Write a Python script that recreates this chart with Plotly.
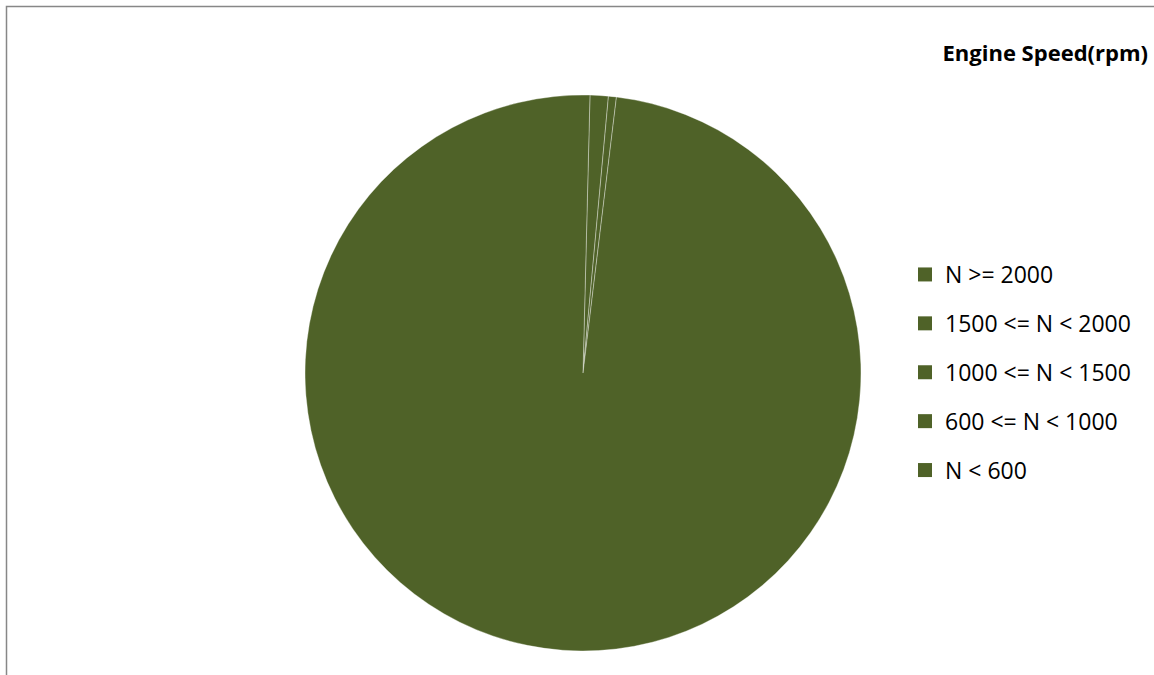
import plotly.graph_objects as go

labels = ["N >= 2000", "1500 <= N < 2000", "1000 <= N < 1500", "600 <= N < 1000", "N < 600"]
values = [0.0, 0.0, 1.06, 0.46, 98.48]
slice_color = "#4F6228"
title_text = "Engine Speed(rpm)"

fig = go.Figure()
fig.add_trace(go.Pie(
    labels=labels, values=values, sort=False, direction="clockwise", rotation=1.44,
    marker=dict(colors=[slice_color] * len(labels), line=dict(color="rgba(255,255,255,0.35)", width=1)),
    textinfo="none", hoverinfo="label+percent", showlegend=False,
    domain=dict(x=[305 / 1154, 861 / 1154], y=[24 / 675, 580 / 675]),
))

# legend entries (one group per label for Excel-like spacing)
for i, lab in enumerate(labels):
    fig.add_trace(go.Scatter(
        x=[None], y=[None], mode="markers", name=lab, legendgroup=f"g{i}",
        marker=dict(symbol="square", size=14, color=slice_color),
        showlegend=True,
    ))

fig.update_layout(
    width=1154, height=675,
    margin=dict(l=0, r=0, t=0, b=0),
    paper_bgcolor="white", plot_bgcolor="white",
    xaxis=dict(visible=False), yaxis=dict(visible=False),
    font=dict(family="Open Sans, Lato, sans-serif", color="black"),
    title=dict(text="<b>" + title_text + "</b>", x=1148 / 1154, xanchor="right",
               y=1 - 53 / 675, yanchor="middle", font=dict(size=22, family="Open Sans, sans-serif")),
    legend=dict(x=905 / 1154, xanchor="left", y=1 - 253 / 675, yanchor="top",
                traceorder="grouped", tracegroupgap=16, font=dict(size=23),
                bgcolor="rgba(0,0,0,0)", itemclick=False),
    shapes=[dict(type="rect", xref="paper", yref="paper",
                 x0=6.5 / 1154, x1=1.02, y0=-0.02, y1=1 - 6.5 / 675,
                 line=dict(color="#878787", width=1.5), fillcolor="rgba(0,0,0,0)")],
)

fig.write_html("out.html", config={"displayModeBar": False},
               post_script="document.body.style.margin='0';")
